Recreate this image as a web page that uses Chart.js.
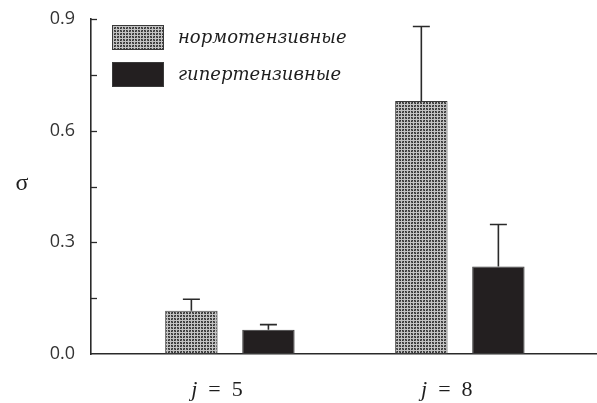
<!DOCTYPE html>
<html>
<head>
<meta charset="utf-8">
<script src="https://cdn.jsdelivr.net/npm/chart.js@4/dist/chart.umd.min.js"></script>
<style>
  html, body { margin: 0; padding: 0; background: #fff; }
  #wrap { width: 597px; height: 403px; position: relative; }
</style>
</head>
<body>
<div id="wrap"><canvas id="c"></canvas></div>
<script>
// Wavelet level j and the σ values for both groups (upper error bars only)
const categories = ['5', '8'];
const seriesNames = ['нормотензивные', 'гипертензивные'];
const normoValues = [0.116, 0.680];
const normoErrors = [0.031, 0.200];
const hyperValues = [0.065, 0.235];
const hyperErrors = [0.014, 0.113];
const yTicks = [0.0, 0.3, 0.6, 0.9];

// Fine screen-like fill used for the first group: dark cells on a light grid
function makePattern() {
  const p = document.createElement('canvas');
  p.width = 6; p.height = 6;
  const g = p.getContext('2d');
  g.fillStyle = '#c4c4c4';
  g.fillRect(0, 0, 6, 6);
  for (let y = 0; y < 6; y++) {
    for (let x = 0; x < 6; x++) {
      if (x % 3 < 2 && y % 3 < 2) {
        g.fillStyle = ((x + y) % 2 === 0) ? '#333333' : '#5e5e5e';
        g.fillRect(x, y, 1, 1);
      }
    }
  }
  return g.createPattern(p, 'repeat');
}
const ctx0 = document.getElementById('c').getContext('2d');
const dotted = makePattern();

const toPoints = vals => vals.map((v, i) => ({ x: i + 1, y: v }));

// Upward error whiskers with caps
const errorBars = {
  id: 'errorBars',
  afterDatasetsDraw(chart) {
    const { ctx, scales: { y } } = chart;
    chart.data.datasets.forEach((ds, di) => {
      const meta = chart.getDatasetMeta(di);
      meta.data.forEach((bar, i) => {
        const top = y.getPixelForValue(ds.data[i].y + ds.errors[i]);
        const base = y.getPixelForValue(ds.data[i].y);
        ctx.save();
        ctx.strokeStyle = '#2a2a2a';
        ctx.lineWidth = 1.6;
        ctx.beginPath();
        ctx.moveTo(bar.x, base);
        ctx.lineTo(bar.x, top);
        ctx.moveTo(bar.x - 8.5, top);
        ctx.lineTo(bar.x + 8.5, top);
        ctx.stroke();
        ctx.restore();
      });
    });
  }
};

// Inward tick marks on the value axis (every 0.15)
const innerTicks = {
  id: 'innerTicks',
  afterDraw(chart) {
    const { ctx, scales: { y }, chartArea } = chart;
    ctx.save();
    ctx.strokeStyle = '#2a2a2a';
    ctx.lineWidth = 1.3;
    for (let v = 0.15; v <= 0.9001; v += 0.15) {
      const py = Math.round(y.getPixelForValue(v)) + 0.5;
      ctx.beginPath();
      ctx.moveTo(chartArea.left, py);
      ctx.lineTo(chartArea.left + 6, py);
      ctx.stroke();
    }
    ctx.restore();
  }
};

// Category labels "j = n" with italic j, plus the σ axis title
const jLabels = {
  id: 'jLabels',
  afterDraw(chart) {
    const { ctx, scales: { x } } = chart;
    ctx.save();
    ctx.fillStyle = '#1e1e1e';
    ctx.textBaseline = 'alphabetic';
    categories.forEach((c, i) => {
      const cx = x.getPixelForValue(i + 1) - 13;
      ctx.font = 'italic 22px "Liberation Serif"';
      const wj = ctx.measureText('j').width;
      ctx.font = '22px "Liberation Serif"';
      const rest = '  =  ' + c;
      const wr = ctx.measureText(rest).width;
      const start = cx - (wj + wr) / 2;
      ctx.font = 'italic 22px "Liberation Serif"';
      ctx.fillText('j', start, 396);
      ctx.font = '22px "Liberation Serif"';
      ctx.fillText(rest, start + wj, 396);
    });
    ctx.font = '24px "Liberation Serif"';
    ctx.textAlign = 'center';
    ctx.fillText('σ', 22, 190);
    ctx.restore();
  }
};

// Legend boxes in the upper left of the plot
const boxLegend = {
  id: 'boxLegend',
  afterDraw(chart) {
    const { ctx } = chart;
    ctx.save();
    chart.data.datasets.forEach((ds, i) => {
      const top = 25 + i * 37;
      ctx.fillStyle = ds.backgroundColor;
      ctx.fillRect(112, top, 52, 25);
      ctx.strokeStyle = '#3a3a3a';
      ctx.lineWidth = 1;
      ctx.strokeRect(112.5, top + 0.5, 51, 24);
      ctx.fillStyle = '#1e1e1e';
      ctx.font = 'italic 18px "DejaVu Serif"';
      ctx.textBaseline = 'middle';
      ctx.fillText(ds.label, 178, top + 13);
    });
    ctx.restore();
  }
};

new Chart(ctx0, {
  type: 'bar',
  data: {
    datasets: [
      {
        label: seriesNames[0],
        data: toPoints(normoValues),
        errors: normoErrors,
        backgroundColor: dotted,
        borderColor: '#3a3a3a',
        borderWidth: 1,
        borderSkipped: false,
        categoryPercentage: 0.67,
        barPercentage: 0.68
      },
      {
        label: seriesNames[1],
        data: toPoints(hyperValues),
        errors: hyperErrors,
        backgroundColor: '#231f20',
        borderColor: '#3a3a3a',
        borderWidth: 1,
        borderSkipped: false,
        categoryPercentage: 0.67,
        barPercentage: 0.68
      }
    ]
  },
  options: {
    responsive: true,
    maintainAspectRatio: false,
    animation: false,
    layout: { padding: { top: 19, right: 1, left: 0, bottom: 0 } },
    plugins: { legend: { display: false }, tooltip: { enabled: false } },
    scales: {
      x: {
        type: 'linear',
        offset: false,
        bounds: 'data',
        min: 0.396,
        max: 2.592,
        grid: { display: false, drawTicks: false, offset: false },
        border: { display: true, color: '#2a2a2a', width: 1.6 },
        afterBuildTicks(s) { s.ticks = categories.map((c, i) => ({ value: i + 1 })); },
        ticks: { display: false },
        afterFit(s) { s.height = 49; s.paddingLeft = 0; s.paddingRight = 0; }
      },
      y: {
        min: 0,
        max: 0.9,
        grid: { display: false, drawTicks: false },
        border: { display: true, color: '#2a2a2a', width: 1.6 },
        afterBuildTicks(s) { s.ticks = yTicks.map(v => ({ value: v })); },
        ticks: {
          padding: 16,
          color: '#333333',
          font: { family: '"Open Sans"', size: 18 },
          callback: v => v.toFixed(1)
        },
        afterFit(s) { s.width = 91; s.paddingTop = 0; s.paddingBottom = 0; }
      }
    }
  },
  plugins: [errorBars, innerTicks, jLabels, boxLegend]
});
</script>
</body>
</html>
